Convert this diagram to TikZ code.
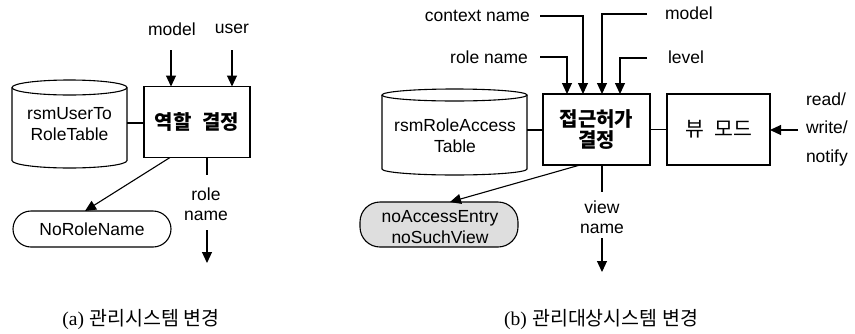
\documentclass[tikz,border=0pt]{standalone}
\usepackage{fontspec}
\setmainfont{Liberation Sans}
\newfontfamily\kr{Noto Sans CJK KR}
\newfontfamily\capserif{Liberation Serif}
\usetikzlibrary{arrows.meta}
\begin{document}
\begin{tikzpicture}[x=1pt,y=-1pt,
  line width=1.1pt,
  every node/.style={inner sep=0pt, outer sep=0pt, font=\fontsize{17.5}{20.5}\selectfont},
  tip/.style={-{Triangle[length=11pt,width=10pt]}},
  procbox/.style={draw, minimum height=71pt, align=center,
    font=\kr\bfseries\fontsize{20}{24}\selectfont},
  modebox/.style={draw, minimum height=71pt, align=center,
    font=\kr\fontsize{20.5}{24}\selectfont},
  tablebody/.style={minimum width=115pt, minimum height=88pt, align=center},
  pill/.style={draw, rounded corners=18pt, align=center},
  caption/.style={font=\fontsize{19.5}{22}\selectfont}]
\useasboundingbox (0,0) rectangle (855,333);

% ---------------- (a) ----------------
\node[procbox, minimum width=106pt] (roleA) at (197,122) {역할\hspace{0.55em}결정};
\node[tablebody] (tblA) at (69.5,124) {rsmUserTo\\RoleTable};
% cylinder outline around the table label
\draw ([yshift=-7.5pt]tblA.north west) -- ([yshift=7.5pt]tblA.south west)
  arc[start angle=180, end angle=360, x radius=57.5pt, y radius=7.5pt]
  -- ([yshift=-7.5pt]tblA.north east);
\draw ([yshift=-7.5pt]tblA.north) ellipse [x radius=57.5pt, y radius=7.5pt];

\node (mdlA) at (172,29) {model};
\node (usrA) at (232,29) {user};
\draw[tip] (171,50) -- (roleA.north -| 171,0);
\draw[tip] (232,50) -- (roleA.north -| 232,0);

\draw (tblA.east |- 0,123) -- (roleA.west |- 0,123);

\node[pill, minimum width=158pt, minimum height=36pt] (noRole) at (92,229) {NoRoleName};
\draw[tip] ([xshift=-27pt]roleA.south) -- ([xshift=-7pt]noRole.north);

\node[align=center] (rnA) at (206,204) {role\\name};
\draw (roleA.south -| 207,0) -- (207,175);
\coordinate (rnAout) at (207,263);
\draw[tip] (207,230) -- (rnAout);

\node[caption] (capA) at (141,320) {{\capserif (a)} {\kr 관리시스템 변경}};

% ---------------- (b) ----------------
\node[procbox, minimum width=107pt] (accB) at (596.5,129.5) {접근허가\\[-3pt]결정};
\node[modebox, minimum width=103pt] (viewB) at (718.5,129.5) {뷰\hspace{0.5em}모드};
\node[tablebody, minimum width=145pt, minimum height=86pt] (tblB) at (454.5,132) {};
\node[align=center] (tblBtxt) at (455,135.5) {rsmRoleAccess\\Table};
\draw ([yshift=-6pt]tblB.north west) -- ([yshift=6pt]tblB.south west)
  arc[start angle=180, end angle=360, x radius=72.5pt, y radius=6pt]
  -- ([yshift=-6pt]tblB.north east);
\draw ([yshift=-6pt]tblB.north) ellipse [x radius=72.5pt, y radius=6pt];

\draw (tblB.east |- 0,130) -- (accB.west |- 0,130);
\draw (accB.east |- 0,129.5) -- (viewB.west |- 0,129.5);

% inputs on top of the access box
\node[anchor=east] (ctxB) at (530,16) {context name};
\node[anchor=east] (rolB) at (528,57) {role name};
\node[anchor=west] (mdlB) at (665,13) {model};
\node[anchor=west] (lvlB) at (668,57) {level};
\draw[tip] (540,16) -| (accB.north -| 583,0);
\draw[tip] (540,57) -| (accB.north -| 567,0);
\draw[tip] (647,14) -| (accB.north -| 602,0);
\draw[tip] (647,58) -| (accB.north -| 620,0);

\node[align=left, anchor=west] (rwnB) at (806,129) {read/\\[8pt]write/\\[8pt]notify};
\draw[tip] (798,130) -- (viewB.east |- 0,130);

\node[pill, fill=black!13, rounded corners=20pt, minimum width=158pt, minimum height=45pt] (noAcc) at (439,224.5) {};
\node[align=center] (noAccTxt) at (440,227) {noAccessEntry\\noSuchView};
\draw[tip] ([xshift=-16.5pt]accB.south) -- ([xshift=11pt]noAcc.north);

\node[align=center] (vnB) at (602,217) {view\\name};
\draw (accB.south -| 602,0) -- (602,192);
\coordinate (vnBout) at (602,272);
\draw[tip] (602,238) -- (vnBout);

\node[caption] (capB) at (601,320) {{\capserif (b)} {\kr 관리대상시스템 변경}};
\end{tikzpicture}
\end{document}
